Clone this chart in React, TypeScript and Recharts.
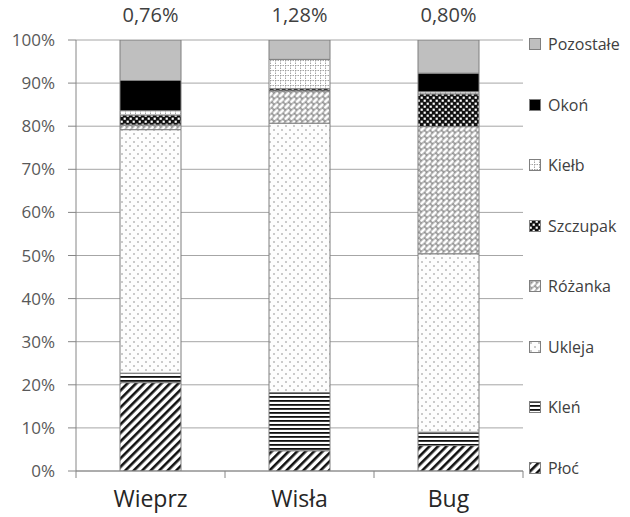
import React from 'react';
import { BarChart, Bar, XAxis, YAxis, CartesianGrid, LabelList } from 'recharts';

const categories = ['Wieprz', 'Wisła', 'Bug'];
const topLabels = ['0,76%', '1,28%', '0,80%'];
const yTicks = [0, 10, 20, 30, 40, 50, 60, 70, 80, 90, 100];

const ploc = [20.5, 4.7, 5.9];
const klen = [2.2, 13.5, 3.1];
const ukleja = [56.5, 62.5, 41.4];
const rozanka = [1.1, 7.5, 29.5];
const szczupak = [2.3, 0.5, 7.6];
const kielb = [1.0, 6.8, 0.5];
const okon = [7.0, 0.0, 4.3];
const pozostale = [9.4, 4.5, 7.7];

const seriesNames = ['Płoć', 'Kleń', 'Ukleja', 'Różanka', 'Szczupak', 'Kiełb', 'Okoń', 'Pozostałe'];
const seriesKeys = ['ploc', 'klen', 'ukleja', 'rozanka', 'szczupak', 'kielb', 'okon', 'pozostale'];
const seriesValues = [ploc, klen, ukleja, rozanka, szczupak, kielb, okon, pozostale];
const seriesFills = [
  'url(#p-ploc)',
  'url(#p-klen)',
  'url(#p-ukleja)',
  'url(#p-rozanka)',
  'url(#p-szczupak)',
  'url(#p-kielb)',
  '#000000',
  '#bfbfbf',
];

const data = categories.map((c, i) => {
  const row: Record<string, any> = { name: c, label: topLabels[i] };
  seriesKeys.forEach((k, j) => {
    row[k] = seriesValues[j][i];
  });
  return row;
});

const FONT = '"Open Sans", sans-serif';

const Patterns = () => (
  <svg width={0} height={0} style={{ position: 'absolute' }}>
    <defs>
      <pattern id="p-ploc" width={6} height={6} patternUnits="userSpaceOnUse" patternTransform="rotate(45)">
        <rect width={6} height={6} fill="#fff" />
        <rect x={0} y={0} width={2.6} height={6} fill="#111" />
      </pattern>
      <pattern id="p-klen" width={4} height={4} patternUnits="userSpaceOnUse">
        <rect width={4} height={4} fill="#fff" />
        <rect x={0} y={0} width={4} height={1.8} fill="#111" />
      </pattern>
      <pattern id="p-ukleja" width={8} height={8} patternUnits="userSpaceOnUse">
        <rect width={8} height={8} fill="#fdfdfd" />
        <circle cx={2} cy={2} r={0.8} fill="#8a8a8a" />
        <circle cx={6} cy={6} r={0.8} fill="#8a8a8a" />
      </pattern>
      <pattern id="p-rozanka" width={8} height={8} patternUnits="userSpaceOnUse" patternTransform="rotate(-45)">
        <rect width={8} height={8} fill="#8c8c8c" />
        <rect x={0.6} y={0.6} width={6.8} height={2.8} rx={1.4} fill="#fff" />
        <rect x={-3.4} y={4.6} width={6.8} height={2.8} rx={1.4} fill="#fff" />
        <rect x={4.6} y={4.6} width={6.8} height={2.8} rx={1.4} fill="#fff" />
      </pattern>
      <pattern id="p-szczupak" width={6} height={6} patternUnits="userSpaceOnUse">
        <rect width={6} height={6} fill="#111" />
        <rect x={0.6} y={0.6} width={2.2} height={2.2} fill="#fff" />
        <rect x={3.6} y={3.6} width={2.2} height={2.2} fill="#fff" />
      </pattern>
      <pattern id="p-kielb" width={5} height={5} patternUnits="userSpaceOnUse">
        <rect width={5} height={5} fill="#fff" />
        <line x1={0} y1={0.5} x2={5} y2={0.5} stroke="#9a9a9a" strokeWidth={0.9} strokeDasharray="1.5 1" />
        <line x1={0.5} y1={0} x2={0.5} y2={5} stroke="#9a9a9a" strokeWidth={0.9} strokeDasharray="1.5 1" />
      </pattern>
    </defs>
  </svg>
);

const XTick = (props: any) => {
  const { x, y, payload, index } = props;
  const half = 74.5;
  return (
    <g>
      <line x1={x - half} y1={y} x2={x - half} y2={y + 7} stroke="#868686" strokeWidth={1} />
      {index === categories.length - 1 && (
        <line x1={x + half} y1={y} x2={x + half} y2={y + 7} stroke="#868686" strokeWidth={1} />
      )}
      <text x={x} y={y + 36} textAnchor="middle" fontSize={23} fontFamily={FONT} fill="#262626">
        {payload.value}
      </text>
    </g>
  );
};

const TopLabel = (props: any) => {
  const { x, y, width, index } = props;
  return (
    <text x={x + width / 2} y={y - 18} textAnchor="middle" fontSize={20} fontFamily={FONT} fill="#404040">
      {topLabels[index]}
    </text>
  );
};

export default function App() {
  const legendOrder = seriesNames.map((n, i) => ({ name: n, fill: seriesFills[i] })).reverse();
  return (
    <div style={{ position: 'absolute', left: 0, top: 0, width: 630, height: 517, background: '#fff' }}>
      <Patterns />
      <BarChart
        width={630}
        height={517}
        data={data}
        margin={{ top: 40, right: 107, bottom: 0, left: 0 }}
        barSize={61}
      >
        <CartesianGrid vertical={false} stroke="#a6a6a6" strokeWidth={1} />
        <XAxis
          dataKey="name"
          height={46}
          tickLine={false}
          tickSize={0}
          tickMargin={0}
          axisLine={{ stroke: '#868686' }}
          tick={<XTick />}
          interval={0}
        />
        <YAxis
          width={76}
          domain={[0, 100]}
          ticks={yTicks}
          tickFormatter={(v: number) => `${v}%`}
          tickSize={8}
          tickMargin={13}
          axisLine={{ stroke: '#868686' }}
          tickLine={{ stroke: '#868686' }}
          tick={{ fontSize: 17, fontFamily: FONT, fill: '#595959' }}
          allowDataOverflow
        />
        {seriesKeys.map((k, i) => (
          <Bar
            key={k}
            dataKey={k}
            name={seriesNames[i]}
            stackId="a"
            fill={seriesFills[i]}
            stroke="#7f7f7f"
            strokeWidth={1}
            isAnimationActive={false}
          >
            {i === seriesKeys.length - 1 && <LabelList dataKey="label" content={<TopLabel />} />}
          </Bar>
        ))}
      </BarChart>
      <div
        style={{
          position: 'absolute',
          left: 529,
          top: 14,
          display: 'flex',
          flexDirection: 'column',
          fontFamily: FONT,
          fontSize: 16,
          color: '#404040',
        }}
      >
        {legendOrder.map((it) => (
          <div key={it.name} style={{ height: 60.5, display: 'flex', alignItems: 'center' }}>
            <svg width={12} height={12} style={{ marginRight: 7 }}>
              <rect x={0.5} y={0.5} width={11} height={11} fill={it.fill} stroke="#7f7f7f" strokeWidth={1} />
            </svg>
            <span>{it.name}</span>
          </div>
        ))}
      </div>
    </div>
  );
}
